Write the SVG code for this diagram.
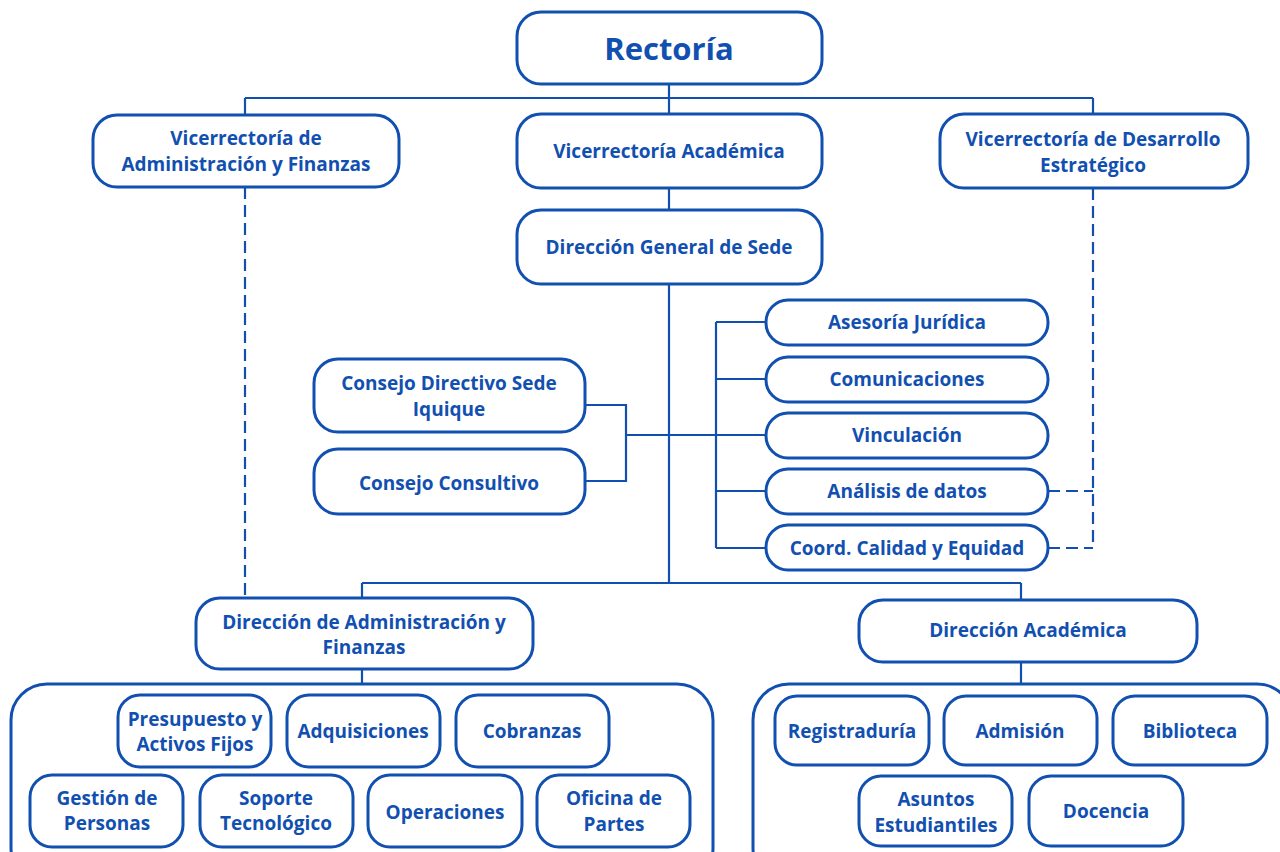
<svg xmlns="http://www.w3.org/2000/svg" width="1280" height="852" viewBox="0 0 1280 852">
<style>
.box{fill:#fff;stroke:#1150b0;stroke-width:3}
.ln{fill:none;stroke:#1150b0;stroke-width:2.2}
.dash{fill:none;stroke:#1150b0;stroke-width:2.2;stroke-dasharray:12,6}
text{font-family:"Open Sans","Noto Sans","Liberation Sans",sans-serif;font-weight:700;fill:#1150b0;text-anchor:middle;font-size:19px}
.big{font-size:31px}
</style>
<rect width="1280" height="852" fill="#fff"/>
<g id="connectors">
<path class="ln" d="M669,84 V114 M245,98 H1093 M245,98 V115 M1093,98 V114 M669,188 V210 M669,284 V583 M362,583 H1021 M362,583 V598 M1021,583 V600"/>
<path class="ln" d="M585,405 H626 V481 H585 M626,435 H766 M716,322 V548 M716,322 H766 M716,379 H766 M716,491 H766 M716,548 H766"/>
<path class="dash" d="M245,187 V598"/>
<path class="dash" d="M1093,188 V547 M1048,491 H1093 M1048,548 H1093"/>
<path class="ln" d="M362,669 V684 M1021,662 V684"/>
</g>
<g id="rectoria"><rect class="box" x="517" y="12" width="305" height="72" rx="24"/><text class="big" x="669" y="60">Rectoría</text></g>
<g id="vaf"><rect class="box" x="93" y="115" width="306" height="72" rx="24"/><text x="246" y="145">Vicerrectoría de</text><text x="246" y="171">Administración y Finanzas</text></g>
<g id="va"><rect class="box" x="517" y="114" width="305" height="74" rx="24"/><text x="669" y="158">Vicerrectoría Académica</text></g>
<g id="vde"><rect class="box" x="940" y="114" width="308" height="74" rx="24"/><text x="1093" y="146">Vicerrectoría de Desarrollo</text><text x="1093" y="172">Estratégico</text></g>
<g id="dgs"><rect class="box" x="517" y="210" width="305" height="74" rx="24"/><text x="669" y="254">Dirección General de Sede</text></g>
<g id="consejo-directivo"><rect class="box" x="314" y="359" width="271" height="73" rx="24"/><text x="449" y="390">Consejo Directivo Sede</text><text x="449" y="416">Iquique</text></g>
<g id="consejo-consultivo"><rect class="box" x="314" y="449" width="271" height="65" rx="24"/><text x="449" y="490">Consejo Consultivo</text></g>
<g id="asesoria"><rect class="box" x="766" y="300" width="282" height="45" rx="22"/><text x="907" y="329">Asesoría Jurídica</text></g>
<g id="comunicaciones"><rect class="box" x="766" y="357" width="282" height="45" rx="22"/><text x="907" y="386">Comunicaciones</text></g>
<g id="vinculacion"><rect class="box" x="766" y="413" width="282" height="45" rx="22"/><text x="907" y="442">Vinculación</text></g>
<g id="analisis"><rect class="box" x="766" y="469" width="282" height="45" rx="22"/><text x="907" y="498">Análisis de datos</text></g>
<g id="coord"><rect class="box" x="766" y="525" width="282" height="45" rx="22"/><text x="907" y="555">Coord. Calidad y Equidad</text></g>
<g id="daf"><rect class="box" x="196" y="598" width="337" height="71" rx="24"/><text x="364" y="629">Dirección de Administración y</text><text x="364" y="654">Finanzas</text></g>
<g id="da"><rect class="box" x="859" y="600" width="338" height="62" rx="24"/><text x="1028" y="637">Dirección Académica</text></g>
<g id="daf-group"><rect class="box" x="11" y="684" width="702" height="200" rx="36"/></g>
<g id="da-group"><rect class="box" x="753" y="684" width="540" height="200" rx="36"/></g>
<g id="presupuesto"><rect class="box" x="118" y="695" width="153" height="72" rx="22"/><text x="195" y="726">Presupuesto y</text><text x="195" y="751">Activos Fijos</text></g>
<g id="adquisiciones"><rect class="box" x="287" y="695" width="153" height="72" rx="22"/><text x="363" y="738">Adquisiciones</text></g>
<g id="cobranzas"><rect class="box" x="456" y="695" width="153" height="72" rx="22"/><text x="532" y="738">Cobranzas</text></g>
<g id="gestion"><rect class="box" x="30" y="775" width="153" height="72" rx="22"/><text x="107" y="805">Gestión de</text><text x="107" y="830">Personas</text></g>
<g id="soporte"><rect class="box" x="200" y="775" width="153" height="72" rx="22"/><text x="276" y="805">Soporte</text><text x="276" y="830">Tecnológico</text></g>
<g id="operaciones"><rect class="box" x="368" y="775" width="154" height="72" rx="22"/><text x="445" y="819">Operaciones</text></g>
<g id="oficina"><rect class="box" x="537" y="775" width="153" height="72" rx="22"/><text x="614" y="805">Oficina de</text><text x="614" y="831">Partes</text></g>
<g id="registraduria"><rect class="box" x="775" y="696" width="154" height="69" rx="22"/><text x="852" y="738">Registraduría</text></g>
<g id="admision"><rect class="box" x="944" y="696" width="153" height="69" rx="22"/><text x="1020" y="738">Admisión</text></g>
<g id="biblioteca"><rect class="box" x="1113" y="696" width="154" height="69" rx="22"/><text x="1190" y="738">Biblioteca</text></g>
<g id="asuntos"><rect class="box" x="859" y="776" width="153" height="70" rx="22"/><text x="936" y="806">Asuntos</text><text x="936" y="832">Estudiantiles</text></g>
<g id="docencia"><rect class="box" x="1029" y="776" width="154" height="70" rx="22"/><text x="1106" y="818">Docencia</text></g>
</svg>
